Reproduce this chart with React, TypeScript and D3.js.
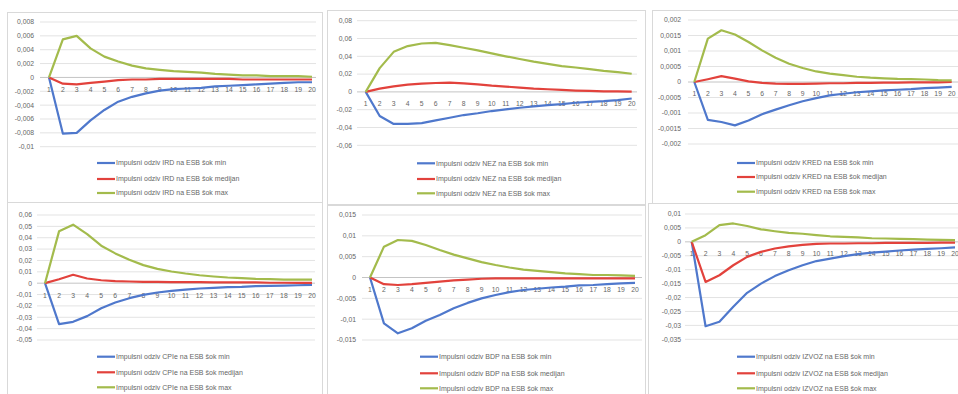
import React from "react";
import * as d3 from "d3";

// Horizon (periods after the shock)
const periods = d3.range(1, 21).map(String);

// Impulse responses to the ESB shock: min / median / max bands
const irdMin = [0, -0.0081, -0.008, -0.0062, -0.0047, -0.0035, -0.0028, -0.0023, -0.0019, -0.0017, -0.0016, -0.0015, -0.0013, -0.0012, -0.0011, -0.001, -0.0009, -0.0008, -0.0007, -0.0007];
const irdMed = [0, -0.0009, -0.001, -0.0008, -0.0006, -0.0004, -0.0003, -0.0003, -0.0002, -0.0002, -0.0002, -0.0002, -0.0002, -0.0002, -0.0003, -0.0003, -0.0003, -0.0003, -0.0003, -0.0003];
const irdMax = [0, 0.0055, 0.006, 0.0042, 0.003, 0.0023, 0.0017, 0.0013, 0.0011, 0.0009, 0.0008, 0.0007, 0.0005, 0.0004, 0.0003, 0.0003, 0.0002, 0.0002, 0.0002, 0.0001];

const nezMin = [0, -0.027, -0.036, -0.036, -0.035, -0.032, -0.029, -0.026, -0.024, -0.0215, -0.0196, -0.0178, -0.0163, -0.0148, -0.0137, -0.0122, -0.0111, -0.0104, -0.0093, -0.0074];
const nezMed = [0, 0.0037, 0.0063, 0.0081, 0.0093, 0.01, 0.0104, 0.0096, 0.0085, 0.007, 0.006, 0.0048, 0.0037, 0.003, 0.0022, 0.0015, 0.0011, 0.0007, 0.0007, 0.0004];
const nezMax = [0, 0.0267, 0.045, 0.0515, 0.0544, 0.055, 0.0526, 0.0496, 0.0467, 0.0433, 0.04, 0.037, 0.034, 0.0315, 0.029, 0.0274, 0.0256, 0.0237, 0.0222, 0.0204];

const kredMin = [0, -0.00122, -0.00129, -0.0014, -0.00124, -0.00104, -0.00089, -0.00075, -0.00062, -0.00052, -0.00043, -0.00038, -0.00033, -0.0003, -0.00027, -0.00025, -0.00023, -0.0002, -0.00018, -0.00016];
const kredMed = [0, 0.00009, 0.00019, 0.00011, 0.00002, -0.00003, -0.00005, -0.00006, -0.00006, -0.00005, -0.00004, -0.00004, -0.00003, -0.00003, -0.00002, -0.00002, -0.00001, -0.00001, -0.00001, 0];
const kredMax = [0, 0.0014, 0.00167, 0.00153, 0.00129, 0.00102, 0.00078, 0.00059, 0.00045, 0.00034, 0.00027, 0.00022, 0.00017, 0.00014, 0.00012, 0.0001, 0.00009, 0.00008, 0.00006, 0.00005];

const cpiMin = [0, -0.036, -0.034, -0.029, -0.022, -0.017, -0.0132, -0.0103, -0.0082, -0.0068, -0.0056, -0.0047, -0.0041, -0.0035, -0.0032, -0.0026, -0.0024, -0.0021, -0.0018, -0.0015];
const cpiMed = [0, 0.0035, 0.0074, 0.0041, 0.0026, 0.0018, 0.0015, 0.0012, 0.0012, 0.001, 0.001, 0.001, 0.0007, 0.0007, 0.0007, 0.0007, 0.0004, 0.0004, 0.0003, 0.0003];
const cpiMax = [0, 0.0456, 0.0515, 0.0432, 0.033, 0.0262, 0.0206, 0.0159, 0.0126, 0.0103, 0.0085, 0.007, 0.0059, 0.005, 0.0044, 0.0038, 0.0035, 0.0032, 0.0032, 0.0032];

const bdpMin = [0, -0.011, -0.0134, -0.0122, -0.0104, -0.009, -0.0074, -0.0061, -0.005, -0.0042, -0.0035, -0.003, -0.0027, -0.0024, -0.0022, -0.0019, -0.0018, -0.0016, -0.0014, -0.0013];
const bdpMed = [0, -0.0016, -0.0018, -0.0016, -0.0013, -0.001, -0.0007, -0.0005, -0.0003, -0.0002, -0.0002, -0.0002, -0.0002, -0.0002, -0.0002, -0.0002, -0.0002, -0.0002, -0.0002, -0.0002];
const bdpMax = [0, 0.0074, 0.009, 0.0088, 0.0078, 0.0066, 0.0055, 0.0046, 0.0037, 0.003, 0.0024, 0.0019, 0.0016, 0.0013, 0.001, 0.0008, 0.0006, 0.0006, 0.0005, 0.0004];

const izvozMin = [0, -0.0303, -0.0287, -0.0233, -0.0183, -0.015, -0.0123, -0.0102, -0.0084, -0.0069, -0.006, -0.0051, -0.0044, -0.0039, -0.0035, -0.0031, -0.0028, -0.0025, -0.0023, -0.002];
const izvozMed = [0, -0.0144, -0.012, -0.0084, -0.0054, -0.0036, -0.0024, -0.0016, -0.0011, -0.0007, -0.0006, -0.0006, -0.0005, -0.0005, -0.0004, -0.0004, -0.0004, -0.0004, -0.0003, -0.0003];
const izvozMax = [0, 0.0024, 0.006, 0.0066, 0.0057, 0.0045, 0.0038, 0.0032, 0.0029, 0.0024, 0.002, 0.0018, 0.0016, 0.0013, 0.0012, 0.0011, 0.001, 0.0008, 0.0007, 0.0006];

// Value-axis ticks and their labels
const irdTicks = [0.008, 0.006, 0.004, 0.002, 0, -0.002, -0.004, -0.006, -0.008, -0.01];
const irdTickLabels = ["0,008", "0,006", "0,004", "0,002", "0", "-0,002", "-0,004", "-0,006", "-0,008", "-0,01"];
const nezTicks = [0.08, 0.06, 0.04, 0.02, 0, -0.02, -0.04, -0.06];
const nezTickLabels = ["0,08", "0,06", "0,04", "0,02", "0", "-0,02", "-0,04", "-0,06"];
const kredTicks = [0.002, 0.0015, 0.001, 0.0005, 0, -0.0005, -0.001, -0.0015, -0.002];
const kredTickLabels = ["0,002", "0,0015", "0,001", "0,0005", "0", "-0,0005", "-0,001", "-0,0015", "-0,002"];
const cpiTicks = [0.06, 0.05, 0.04, 0.03, 0.02, 0.01, 0, -0.01, -0.02, -0.03, -0.04, -0.05];
const cpiTickLabels = ["0,06", "0,05", "0,04", "0,03", "0,02", "0,01", "0", "-0,01", "-0,02", "-0,03", "-0,04", "-0,05"];
const bdpTicks = [0.015, 0.01, 0.005, 0, -0.005, -0.01, -0.015];
const bdpTickLabels = ["0,015", "0,01", "0,005", "0", "-0,005", "-0,01", "-0,015"];
const izvozTicks = [0.01, 0.005, 0, -0.005, -0.01, -0.015, -0.02, -0.025, -0.03, -0.035];
const izvozTickLabels = ["0,01", "0,005", "0", "-0,005", "-0,01", "-0,015", "-0,02", "-0,025", "-0,03", "-0,035"];

const variables = ["IRD", "NEZ", "KRED", "CPIe", "BDP", "IZVOZ"];
const bandNames = ["min", "medijan", "max"];

// Panel frames and plot geometry
const layouts = [
  { fx: 7, fy: 12, fw: 315, fh: 192, x0: 49, x1: 312, gx0: 40, gx1: 316, yT: 22, yB: 146.7, labR: 34, legX: 97, legY: [163, 179, 193] },
  { fx: 327, fy: 10, fw: 318, fh: 194, x0: 365.7, x1: 631.7, gx0: 357, gx1: 637, yT: 20.7, yB: 145.3, labR: 352, legX: 417, legY: [163.3, 179, 193.3] },
  { fx: 652, fy: 10, fw: 310, fh: 194, x0: 694.3, x1: 951.7, gx0: 688, gx1: 958, yT: 20, yB: 144, labR: 681, legX: 737, legY: [163, 177, 191.7] },
  { fx: 7, fy: 202, fw: 315, fh: 196, x0: 45, x1: 312, gx0: 37, gx1: 315, yT: 215, yB: 340, labR: 32, legX: 97, legY: [356.7, 372.3, 387.3] },
  { fx: 327, fy: 205, fw: 318, fh: 193, x0: 370, x1: 635, gx0: 362, gx1: 642, yT: 215, yB: 340, labR: 356, legX: 420, legY: [356.7, 373.3, 388.3] },
  { fx: 648, fy: 203, fw: 314, fh: 195, x0: 691.7, x1: 955, gx0: 685, gx1: 958, yT: 214, yB: 339.3, labR: 681, legX: 737, legY: [356.7, 373.3, 388.3] },
];

const seriesColors = ["#4f78cc", "#e2423c", "#a3bb4c"];
const FONT = "'Liberation Sans', Arial, sans-serif";

const panels = [
  { series: [irdMin, irdMed, irdMax], ticks: irdTicks, labels: irdTickLabels },
  { series: [nezMin, nezMed, nezMax], ticks: nezTicks, labels: nezTickLabels },
  { series: [kredMin, kredMed, kredMax], ticks: kredTicks, labels: kredTickLabels },
  { series: [cpiMin, cpiMed, cpiMax], ticks: cpiTicks, labels: cpiTickLabels },
  { series: [bdpMin, bdpMed, bdpMax], ticks: bdpTicks, labels: bdpTickLabels },
  { series: [izvozMin, izvozMed, izvozMax], ticks: izvozTicks, labels: izvozTickLabels },
];

function Panel({ idx }: { idx: number }) {
  const p = panels[idx];
  const L = layouts[idx];
  const name = variables[idx];
  const x = d3.scalePoint<string>().domain(periods).range([L.x0, L.x1]);
  const y = d3
    .scaleLinear()
    .domain([d3.min(p.ticks)!, d3.max(p.ticks)!])
    .range([L.yB, L.yT]);
  const line = d3
    .line<number>()
    .x((_, i) => x(periods[i])!)
    .y((v) => y(v));

  return (
    <g>
      <rect x={L.fx + 0.5} y={L.fy + 0.5} width={L.fw} height={L.fh} fill="#fff" stroke="#d9d9d9" />
      {p.ticks.map((t, i) => (
        <g key={i}>
          {t !== 0 && (
            <line x1={L.gx0} x2={L.gx1} y1={y(t)} y2={y(t)} stroke="#e3e3e3" strokeWidth={1} />
          )}
          <text x={L.labR} y={y(t)} dy="0.35em" textAnchor="end" fontSize={6.8} fill="#666" fontFamily={FONT}>
            {p.labels[i]}
          </text>
        </g>
      ))}
      <line x1={L.gx0} x2={L.gx1} y1={y(0)} y2={y(0)} stroke="#c4c4c4" strokeWidth={1} />
      {periods.map((c) => (
        <text key={c} x={x(c)} y={y(0) + 12} dy="0.35em" textAnchor="middle" fontSize={6.8} fill="#666" fontFamily={FONT}>
          {c}
        </text>
      ))}
      {p.series.map((s, i) => (
        <path key={i} d={line(s)!} fill="none" stroke={seriesColors[i]} strokeWidth={2.2} strokeLinejoin="round" />
      ))}
      {bandNames.map((b, i) => (
        <g key={b}>
          <line x1={L.legX} x2={L.legX + 18} y1={L.legY[i]} y2={L.legY[i]} stroke={seriesColors[i]} strokeWidth={2.2} />
          <text x={L.legX + 19} y={L.legY[i]} dy="0.35em" fontSize={7} fill="#666" fontFamily={FONT}>
            {`Impulsni odziv ${name} na ESB šok ${b}`}
          </text>
        </g>
      ))}
    </g>
  );
}

export default function App() {
  return (
    <svg
      width={958}
      height={394}
      viewBox="0 0 958 394"
      style={{ position: "absolute", left: 0, top: 0, background: "#fff" }}
    >
      <rect width={958} height={394} fill="#fff" />
      {panels.map((_, i) => (
        <Panel key={i} idx={i} />
      ))}
    </svg>
  );
}
